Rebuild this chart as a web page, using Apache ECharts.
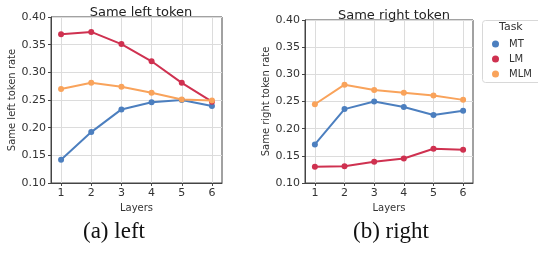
<!DOCTYPE html>
<html>
<head>
<meta charset="utf-8">
<script src="https://cdn.jsdelivr.net/npm/echarts@6/dist/echarts.min.js"></script>
<style>
  html, body { margin: 0; padding: 0; background: #fff; }
  #chart { width: 538px; height: 255px; }
</style>
</head>
<body>
<div id="chart"></div>
<script>
// layers on the x axis
var layers = [1, 2, 3, 4, 5, 6];
var tasks = ['MT', 'LM', 'MLM'];
var taskColors = { MT: '#4c7fbf', LM: '#cf3150', MLM: '#f9a35b' };

// Same left token
var leftMT = [0.142, 0.192, 0.233, 0.246, 0.250, 0.239];
var leftLM = [0.369, 0.373, 0.351, 0.320, 0.281, 0.247];
var leftMLM = [0.270, 0.281, 0.274, 0.263, 0.251, 0.249];

// Same right token
var rightMT = [0.171, 0.236, 0.250, 0.240, 0.225, 0.233];
var rightLM = [0.130, 0.131, 0.139, 0.145, 0.163, 0.161];
var rightMLM = [0.245, 0.281, 0.271, 0.266, 0.261, 0.253];

var font = 'DejaVu Sans';

function pairs(vals) {
  return layers.map(function (l, i) { return [l, vals[i]]; });
}

function xAxisCfg(idx) {
  return {
    type: 'value',
    gridIndex: idx,
    min: 2 / 3,
    max: 6 + 1 / 3,
    name: 'Layers',
    nameLocation: 'middle',
    nameGap: 15,
    nameTextStyle: { fontFamily: font, fontSize: 10, color: '#333' },
    axisLine: { show: true, lineStyle: { color: '#444', width: 1 } },
    axisTick: { show: true, length: 3, customValues: layers, lineStyle: { color: '#444' } },
    axisLabel: { customValues: layers, fontFamily: font, fontSize: 11, color: '#333', margin: 5 },
    splitLine: { show: true, customValues: layers, lineStyle: { color: '#dcdcdc', width: 1 } }
  };
}

function yAxisCfg(idx, name) {
  return {
    type: 'value',
    gridIndex: idx,
    min: 0.1,
    max: 0.4,
    interval: 0.05,
    name: name,
    nameLocation: 'middle',
    nameGap: 29,
    nameTextStyle: { fontFamily: font, fontSize: 10, color: '#333' },
    axisLine: { show: true, lineStyle: { color: '#444', width: 1 } },
    axisTick: { show: true, length: 3, lineStyle: { color: '#444' } },
    axisLabel: {
      fontFamily: font, fontSize: 11, color: '#333', margin: 5,
      formatter: function (v) { return v.toFixed(2); }
    },
    splitLine: { show: true, lineStyle: { color: '#dcdcdc', width: 1 } }
  };
}

function lineSeries(name, vals, idx) {
  return {
    name: name,
    type: 'line',
    xAxisIndex: idx,
    yAxisIndex: idx,
    data: pairs(vals),
    symbol: 'circle',
    symbolSize: 6,
    itemStyle: { color: taskColors[name] },
    lineStyle: { width: 2, color: taskColors[name] },
    emphasis: { disabled: true },
    z: 3
  };
}

var myChart = echarts.init(document.getElementById('chart'));
var option = {
  animation: false,
  title: [
    { text: 'Same left token', left: 136, top: 1, textAlign: 'center',
      textStyle: { fontFamily: font, fontSize: 13, fontWeight: 'normal', color: '#222' } },
    { text: 'Same right token', left: 389, top: 4, textAlign: 'center',
      textStyle: { fontFamily: font, fontSize: 13, fontWeight: 'normal', color: '#222' } }
  ],
  grid: [
    { left: 51, top: 17, width: 171, height: 166, show: true, borderColor: '#444', borderWidth: 1 },
    { left: 305, top: 20, width: 168, height: 163, show: true, borderColor: '#444', borderWidth: 1 }
  ],
  xAxis: [xAxisCfg(0), xAxisCfg(1)],
  yAxis: [yAxisCfg(0, 'Same left token rate'), yAxisCfg(1, 'Same right token rate')],
  legend: {
    data: tasks,
    orient: 'vertical',
    left: 487,
    top: 34,
    itemWidth: 7,
    itemHeight: 7,
    itemGap: 5,
    icon: 'circle',
    textStyle: { fontFamily: font, fontSize: 10, color: '#333', padding: [0, 0, 0, 5] },
    selectedMode: false
  },
  graphic: [
    { type: 'rect', shape: { x: 482.5, y: 20.5, width: 60, height: 62, r: 3 },
      style: { fill: '#fff', stroke: '#d8d8d8', lineWidth: 1 }, z: -1 },
    { type: 'text', left: 499, top: 22,
      style: { text: 'Task', font: '11px "DejaVu Sans"', fill: '#333' } },
    { type: 'text', left: 83, top: 220,
      style: { text: '(a) left', font: '23px "Liberation Serif"', fill: '#111' } },
    { type: 'text', left: 353, top: 220,
      style: { text: '(b) right', font: '23px "Liberation Serif"', fill: '#111' } }
  ],
  series: [
    lineSeries('MT', leftMT, 0),
    lineSeries('LM', leftLM, 0),
    lineSeries('MLM', leftMLM, 0),
    lineSeries('MT', rightMT, 1),
    lineSeries('LM', rightLM, 1),
    lineSeries('MLM', rightMLM, 1)
  ]
};
myChart.setOption(option);
</script>
</body>
</html>
